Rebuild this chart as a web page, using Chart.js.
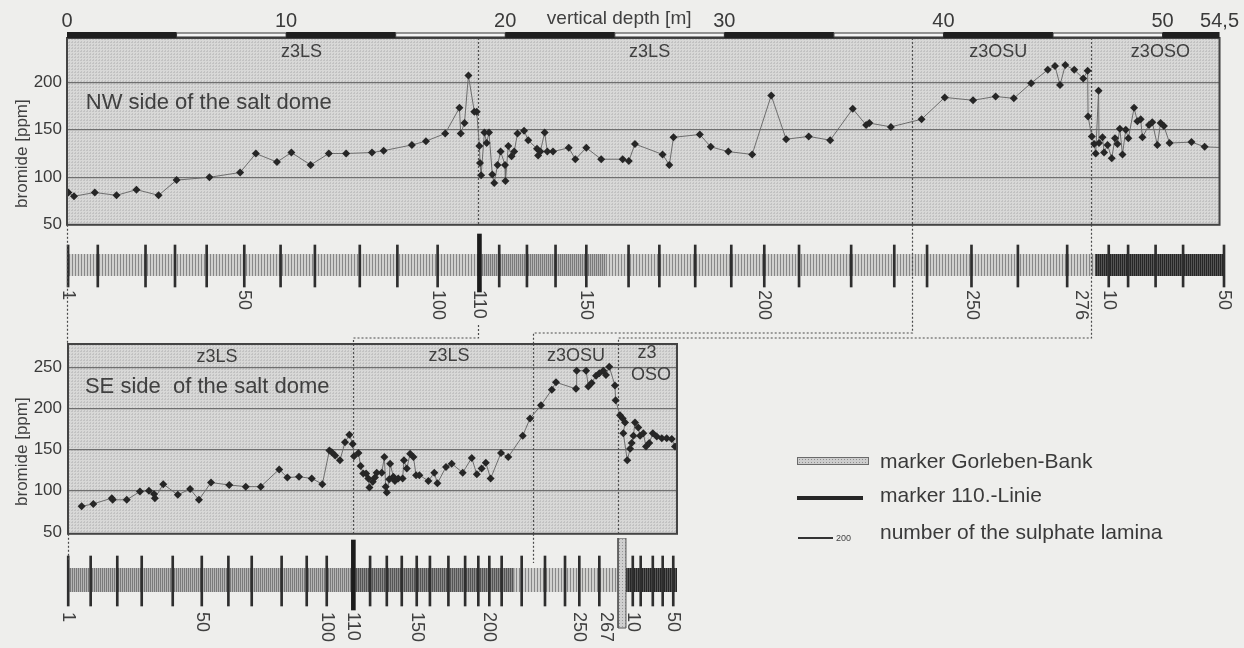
<!DOCTYPE html>
<html>
<head>
<meta charset="utf-8">
<script src="https://cdn.jsdelivr.net/npm/chart.js@4.4.1/dist/chart.umd.min.js"></script>
<style>
html,body{margin:0;padding:0;background:#eeeeec;}
#page{position:relative;width:1244px;height:648px;overflow:hidden;font-family:"Liberation Sans",Arial,sans-serif;color:#3a3a3a;}
#page canvas{position:absolute;left:0;}
.lg{position:absolute;}
.lgt{position:absolute;left:880px;font-size:21px;line-height:24px;white-space:nowrap;color:#3a3a3a;}
</style>
</head>
<body>
<div id="page">
<canvas id="cNW" width="1244" height="240" style="top:0;width:1244px;height:240px"></canvas>
<canvas id="cNWs" width="1244" height="112" style="top:228px;width:1244px;height:112px"></canvas>
<canvas id="cSE" width="700" height="250" style="top:300px;width:700px;height:250px"></canvas>
<canvas id="cSEs" width="700" height="110" style="top:538px;width:700px;height:110px"></canvas>
<canvas id="cOv" width="1244" height="648" style="top:0;width:1244px;height:648px;pointer-events:none"></canvas>
<div class="lg" style="left:797px;top:457px;width:70px;height:6px;border:1px solid #6a6a6a;background:#cdcdcd;background-image:radial-gradient(#8f8f8f 0.7px,transparent 0.8px);background-size:3px 3px;"></div>
<div class="lgt" style="top:449px">marker Gorleben-Bank</div>
<div class="lg" style="left:797px;top:496px;width:66px;height:4px;background:#262626"></div>
<div class="lgt" style="top:483px">marker 110.-Linie</div>
<div class="lg" style="left:798px;top:537px;width:35px;height:1.5px;background:#333"></div>
<div class="lg" style="left:836px;top:533px;font-size:9px;line-height:10px;color:#444">200</div>
<div class="lgt" style="top:520px">number of the sulphate lamina</div>
</div>
<script>
// ================= DATA =================
// NW side: vertical depth [m] and bromide [ppm]
const nwDepth = [0.06,0.32,1.27,2.26,3.17,4.18,5.0,6.5,7.9,8.62,9.58,10.24,11.12,11.95,12.74,13.92,14.45,15.74,16.38,17.26,
  17.91,17.97,18.14,18.32,18.59,18.7,18.82,18.85,18.9,19.05,19.15,19.26,19.41,19.5,19.65,19.79,19.99,20.01,20.14,20.29,
  20.41,20.56,20.86,21.05,21.45,21.5,21.6,21.8,21.92,22.18,22.9,23.2,23.7,24.38,25.36,25.64,25.92,27.18,27.49,27.68,
  28.88,29.38,30.18,31.27,32.14,32.82,33.85,34.83,35.86,36.47,36.62,37.6,39.0,40.06,41.35,42.38,43.21,44.0,44.76,45.09,
  45.32,45.56,45.97,46.38,46.58,46.6,46.77,46.88,46.95,47.08,47.1,47.26,47.33,47.49,47.68,47.83,47.94,48.05,48.17,48.32,
  48.44,48.7,48.85,49.0,49.08,49.38,49.53,49.76,49.91,50.06,50.32,51.32,51.92,52.95];
const nwBromide = [84,80,84,81,87,81,97,100,105,125,116,126,113,125,125,126,128,134,138,146,
  173,146,157,207,169,169,133,115,102,147,136,147,103,94,113,127,113,96,133,122,
  127,146,149,139,130,123,127,147,127,127,131,119,131,119,119,117,135,124,113,142,
  145,132,127,124,186,140,143,139,172,155,157,153,161,184,181,185,183,199,213,217,
  197,218,213,204,212,164,143,135,125,191,136,142,126,134,120,141,135,151,124,150,
  141,173,159,161,142,155,158,134,157,154,136,137,132,131];

// SE side: position [m] and bromide [ppm]
const seDepth = [0.62,1.15,1.99,2.03,2.67,3.27,3.68,3.91,3.95,4.33,4.99,5.55,5.95,6.5,7.33,8.08,8.76,9.6,9.97,10.5,
  11.08,11.56,11.88,11.99,12.14,12.36,12.59,12.79,12.94,13.0,13.2,13.3,13.42,13.55,13.65,13.7,13.85,13.95,14.03,14.26,
  14.38,14.44,14.49,14.6,14.64,14.79,14.86,15.01,15.21,15.27,15.4,15.55,15.7,15.82,15.97,16.38,16.65,16.79,17.18,17.44,
  17.94,18.35,18.58,18.8,18.99,19.21,19.68,20.01,20.67,21.0,21.5,21.99,22.18,23.09,23.12,23.55,23.65,23.8,24.0,24.15,
  24.33,24.45,24.6,24.86,24.89,25.09,25.21,25.32,25.24,25.42,25.55,25.62,25.7,25.77,25.92,26.0,26.15,26.27,26.42,26.58,
  26.76,26.99,27.21,27.44,27.59,27.9];
const seBromide = [81,84,91,89,89,99,100,96,91,108,95,102,89,110,107,105,105,126,116,117,
  115,108,149,147,143,137,159,168,157,142,146,130,121,121,115,104,111,116,122,122,
  141,105,98,114,133,117,112,115,115,137,127,145,141,119,119,112,122,109,129,133,
  122,140,120,127,134,115,146,141,167,188,204,223,232,224,246,246,227,231,240,243,
  246,241,251,228,210,192,188,183,170,137,151,158,167,183,177,167,170,154,158,170,
  166,164,164,163,154,150];

// axes
const depthTicks = [0,10,20,30,40,50,52.6];
const depthTickLabels = ['0','10','20','30','40','50','54,5'];
const bromideTicksNW = [50,100,150,200];
const bromideTicksSE = [50,100,150,200,250];

// stratigraphic units and boundaries
const nwUnits = ['z3LS','z3LS','z3OSU','z3OSO'];
const nwUnitPos = [10.7,26.59,42.5,49.9];
const nwBoundaries = [18.75,38.55,46.73];
const seUnits = ['z3LS','z3LS','z3OSU','z3','OSO'];
const seUnitPos = [6.77,17.32,23.09,26.32,26.5];
const seUnitLevel = [262.5,264.3,264.3,267.9,240.5];
const seBoundaries = [12.97,21.14,25.0];

// sulphate lamina strips
const nwLaminaPos = [0.05,1.4,3.57,4.91,6.35,8.06,9.71,11.27,13.31,15.02,16.85,19.65,20.91,22.21,23.61,25.53,26.93,
  28.56,30.2,31.7,33.28,35.65,37.61,39.1,41.12,43.23,45.47,47.36,48.24,49.49,50.74,52.6];
const nwMarker110 = 18.75;
const nwLaminaLabels = ['1','50','100','110','150','200','250','276','10','50'];
const nwLaminaLabelPos = [0.05,8.06,16.85,18.75,23.61,31.7,41.12,46.09,47.36,52.6];
const nwStripSegments = [[0.05,18.75,'light'],[18.75,24.5,'mid'],[24.5,46.73,'light'],[46.73,52.6,'dark']];

const seLaminaPos = [0.01,1.03,2.24,3.35,4.76,6.08,7.29,8.35,9.71,10.85,11.76,13.73,14.49,15.17,15.85,16.45,17.29,
  18.05,18.65,19.15,19.71,20.62,21.68,22.59,23.24,24.15,25.67,26.03,26.58,27.03,27.51];
const seMarker110 = 12.97;
const seGorleben = [25.0,25.36];
const seLaminaLabels = ['1','50','100','110','150','200','250','267','10','50'];
const seLaminaLabelPos = [0.01,6.08,11.76,12.97,15.85,19.15,23.24,24.45,25.67,27.51];
const seStripSegments = [[0,12.97,'mid'],[12.97,20.3,'midDark'],[20.3,25.0,'light'],[25.36,27.68,'dark']];

// correlation of lamina between the two profiles (NW position -> SE position)
const corrNW = [18.75,38.55,46.73];
const corrSE = [12.97,21.14,25.0];

// ================= STYLE =================
Chart.defaults.font.family = '"Liberation Sans", Arial, Helvetica, sans-serif';
Chart.defaults.color = '#3c3c3c';
const TXT = '#404040';
function makePattern(w,h,draw){const c=document.createElement('canvas');c.width=w;c.height=h;const g=c.getContext('2d');draw(g);return g.createPattern(c,'repeat');}
const plotFill = makePattern(3,3,g=>{g.fillStyle='#d8d8d7';g.fillRect(0,0,3,3);g.fillStyle='#c2c2c2';g.fillRect(0,0,1,1);g.fillRect(2,0,1,1);g.fillRect(0,2,1,1);});
function stripe(period,line,bg){return makePattern(period,4,g=>{g.fillStyle=bg;g.fillRect(0,0,period,4);g.fillStyle=line;g.fillRect(0,0,1,4);});}
const shades = {light:stripe(3,'#888','#d0d0ce'), mid:stripe(2,'#7a7a7a','#b4b4b4'), midDark:stripe(2,'#555','#8a8a8a'), dark:stripe(2,'#262626','#555')};
const gbFill = makePattern(3,3,g=>{g.fillStyle='#cfcfcf';g.fillRect(0,0,3,3);g.fillStyle='#9a9a9a';g.fillRect(1,1,1,1);});

// ================= PLUGINS =================
const plotDeco = {
  id:'plotDeco',
  beforeDraw(chart,args,o){
    const {ctx,chartArea:a}=chart;
    ctx.save();ctx.fillStyle=plotFill;ctx.fillRect(a.left,a.top,a.right-a.left,a.bottom-a.top);ctx.restore();
  },
  beforeDatasetsDraw(chart,args,o){
    const {ctx,chartArea:a,scales:{x,y}}=chart;
    ctx.save();
    ctx.strokeStyle='#505050';ctx.lineWidth=1.2;ctx.setLineDash([2,2]);
    o.boundaries.forEach(b=>{const px=Math.round(x.getPixelForValue(b))+0.5;ctx.beginPath();ctx.moveTo(px,a.top);ctx.lineTo(px,a.bottom);ctx.stroke();});
    ctx.setLineDash([]);
    ctx.fillStyle=TXT;ctx.textBaseline='middle';
    o.texts.forEach(t=>{ctx.font=t.font;ctx.textAlign=t.align||'center';ctx.fillText(t.text,x.getPixelForValue(t.x),y.getPixelForValue(t.y));});
    ctx.restore();
  },
  afterDraw(chart,args,o){
    const {ctx,chartArea:a,scales:{x,y}}=chart;
    ctx.save();
    ctx.strokeStyle='#444';ctx.lineWidth=2;
    ctx.strokeRect(a.left,a.top,a.right-a.left,a.bottom-a.top);
    // y title
    ctx.fillStyle=TXT;ctx.font='17px "Liberation Sans", Arial, sans-serif';ctx.textAlign='center';ctx.textBaseline='middle';
    ctx.translate(o.titleX,y.getPixelForValue(o.titleAt));ctx.rotate(-Math.PI/2);ctx.fillText(o.title,0,0);
    ctx.restore();
    if(o.depthBar){
      ctx.save();
      const top=a.top-6,h=6;
      for(let d=0,k=0;d<x.max;d+=5,k++){
        const x0=x.getPixelForValue(d),x1=x.getPixelForValue(Math.min(d+5,x.max));
        if(k%2===0){ctx.fillStyle='#1f1f1f';ctx.fillRect(x0,top,x1-x0,h);}
        else{ctx.fillStyle='#f4f4f4';ctx.fillRect(x0,top+1,x1-x0,h-2);ctx.strokeStyle='#333';ctx.lineWidth=1;ctx.strokeRect(x0,top+1,x1-x0,h-2);}
      }
      ctx.fillStyle=TXT;ctx.font='19px "Liberation Sans", Arial, sans-serif';ctx.textAlign='center';ctx.textBaseline='middle';
      ctx.fillText(o.depthTitle,x.getPixelForValue(o.depthTitleAt),19);
      ctx.restore();
    }
  }
};
const stripLabels = {
  id:'stripLabels',
  afterDraw(chart,args,o){
    const {ctx,scales:{x,y}}=chart;
    ctx.save();ctx.fillStyle=TXT;ctx.font='18px "Liberation Sans", Arial, sans-serif';ctx.textAlign='left';ctx.textBaseline='middle';
    o.labels.forEach((t,i)=>{ctx.save();ctx.translate(x.getPixelForValue(o.pos[i]),y.getPixelForValue(o.top));ctx.rotate(Math.PI/2);ctx.fillText(t,0,0);ctx.restore();});
    ctx.restore();
  }
};

const commonOpts = {responsive:false,animation:false,events:[],maintainAspectRatio:false};
const F = s => s+'px "Liberation Sans", Arial, sans-serif';

// ================= NW PLOT =================
const nwChart = new Chart(document.getElementById('cNW'),{
  type:'line',
  data:{datasets:[{data:nwDepth.map((d,i)=>({x:d,y:nwBromide[i]})),borderColor:'#6e6e6e',borderWidth:1,
    pointStyle:'rectRot',pointRadius:4,pointBackgroundColor:'#262626',pointBorderWidth:0,tension:0}]},
  options:{...commonOpts,layout:{padding:{left:0,right:20,top:0,bottom:13}},
    scales:{
      x:{type:'linear',position:'top',min:0,max:52.6,grid:{display:false,drawTicks:false},border:{display:false},
        afterBuildTicks:s=>{s.ticks=depthTicks.map(v=>({value:v}));},afterFit:s=>{s.height=38;},
        ticks:{autoSkip:false,maxRotation:0,padding:5,font:{size:20},color:'#3a3a3a',callback:(v,i)=>depthTickLabels[i]}},
      y:{type:'linear',min:50,max:246.5,afterBuildTicks:s=>{s.ticks=bromideTicksNW.map(v=>({value:v}));},afterFit:s=>{s.width=67;},
        grid:{color:c=>(c.tick&&c.tick.value===50)?'rgba(0,0,0,0)':'#6f6f6f',lineWidth:1.2,drawTicks:false},border:{display:false},
        ticks:{padding:5,font:{size:17},color:'#3a3a3a'}}
    },
    plugins:{legend:{display:false},tooltip:{enabled:false},
      plotDeco:{boundaries:nwBoundaries,title:'bromide [ppm]',titleX:22,titleAt:124.9,depthBar:true,depthTitle:'vertical depth [m]',depthTitleAt:25.2,
        texts:[...nwUnits.map((t,i)=>({text:t,x:nwUnitPos[i],y:232,font:F(18)})),{text:'NW side of the salt dome',x:0.86,y:177.9,font:F(22),align:'left'}]}}
  },
  plugins:[plotDeco]
});

// ================= SE PLOT =================
const seChart = new Chart(document.getElementById('cSE'),{
  type:'line',
  data:{datasets:[{data:seDepth.map((d,i)=>({x:d,y:seBromide[i]})),borderColor:'#6e6e6e',borderWidth:1,
    pointStyle:'rectRot',pointRadius:4,pointBackgroundColor:'#262626',pointBorderWidth:0,tension:0}]},
  options:{...commonOpts,layout:{padding:{left:0,right:23,top:44,bottom:12}},
    scales:{
      x:{type:'linear',display:false,min:0,max:27.68},
      y:{type:'linear',min:47.6,max:278.6,afterBuildTicks:s=>{s.ticks=bromideTicksSE.map(v=>({value:v}));},afterFit:s=>{s.width=68;},
        grid:{color:c=>(c.tick&&c.tick.value===50)?'rgba(0,0,0,0)':'#6f6f6f',lineWidth:1.2,drawTicks:false},border:{display:false},
        ticks:{padding:6,font:{size:17},color:'#3a3a3a'}}
    },
    plugins:{legend:{display:false},tooltip:{enabled:false},
      plotDeco:{boundaries:seBoundaries,title:'bromide [ppm]',titleX:22,titleAt:147.6,depthBar:false,
        texts:[...seUnits.map((t,i)=>({text:t,x:seUnitPos[i],y:seUnitLevel[i],font:F(18)})),{text:'SE side  of the salt dome',x:0.77,y:226.2,font:F(22),align:'left'}]}}
  },
  plugins:[plotDeco]
});

// ================= STRIPS =================
function stripChart(id,xmax,padL,padR,h,segs,lamPos,m110,geom,labels,labelPos,gorleben){
  const ds=[];
  segs.forEach(([a,b,s])=>ds.push({type:'line',data:[{x:a,y:geom.band[0]},{x:b,y:geom.band[0]}],fill:{value:geom.band[1]},
    backgroundColor:shades[s],borderWidth:0,pointRadius:0,order:5}));
  ds.push({type:'bar',data:lamPos.map(p=>({x:p,y:geom.tick})),backgroundColor:'#2e2e2e',barThickness:2,grouped:false,clip:false,order:3});
  ds.push({type:'bar',data:[{x:m110,y:geom.m110}],backgroundColor:'#1c1c1c',barThickness:4,grouped:false,clip:false,order:2});
  if(gorleben){
    ds.push({type:'line',data:[{x:gorleben[0],y:geom.gb[0]},{x:gorleben[1],y:geom.gb[0]}],fill:{value:geom.gb[1]},backgroundColor:gbFill,borderWidth:0,pointRadius:0,order:1,clip:false});
    ds.push({type:'line',data:[{x:gorleben[0],y:geom.gb[0]},{x:gorleben[0],y:geom.gb[1]},{x:gorleben[1],y:geom.gb[1]},{x:gorleben[1],y:geom.gb[0]},{x:gorleben[0],y:geom.gb[0]}],
      borderColor:'#555',borderWidth:1,pointRadius:0,fill:false,order:0,clip:false});
  }
  return new Chart(document.getElementById(id),{
    type:'line',data:{datasets:ds},
    options:{...commonOpts,layout:{padding:{left:padL,right:padR,top:0,bottom:0}},
      scales:{x:{type:'linear',display:false,min:0,max:xmax,offset:false},y:{type:'linear',display:false,min:0,max:h,reverse:true}},
      plugins:{legend:{display:false},tooltip:{enabled:false},stripLabels:{labels:labels,pos:labelPos,top:geom.labelTop}}},
    plugins:[stripLabels]
  });
}
const nwStrip = stripChart('cNWs',52.6,67,20,112,nwStripSegments,nwLaminaPos,nwMarker110,
  {band:[26,48],tick:[17,59],m110:[6,64],labelTop:62},nwLaminaLabels,nwLaminaLabelPos,null);
const seStrip = stripChart('cSEs',27.68,68,23,110,seStripSegments,seLaminaPos,seMarker110,
  {band:[30,54],tick:[18,68],m110:[2,72],gb:[0,90],labelTop:74},seLaminaLabels,seLaminaLabelPos,seGorleben);

// ================= CORRELATION LINES =================
(function(){
  const ctx=document.getElementById('cOv').getContext('2d');
  const nx=v=>Math.round(nwChart.scales.x.getPixelForValue(v))+0.5;
  const sx=v=>Math.round(seChart.scales.x.getPixelForValue(v))+0.5;
  const nwBot=nwChart.chartArea.bottom, seT=300+seChart.chartArea.top, seB=300+seChart.chartArea.bottom;
  ctx.strokeStyle='#4a4a4a';ctx.lineWidth=1.2;ctx.setLineDash([2,2]);
  const path=pts=>{ctx.beginPath();pts.forEach(([x,y],i)=>i?ctx.lineTo(x,y):ctx.moveTo(x,y));ctx.stroke();};
  path([[nx(0),nwBot],[nx(0),seT]]);
  path([[sx(0),seB],[sx(0),560]]);
  const levels=[338,333,338], starts=[325,nwBot,nwBot];
  corrNW.forEach((v,i)=>{path([[nx(v),starts[i]],[nx(v),levels[i]],[sx(corrSE[i]),levels[i]],[sx(corrSE[i]),seT]]);});
  path([[sx(corrSE[1]),seB],[sx(corrSE[1]),563]]);
})();
</script>
</body>
</html>
